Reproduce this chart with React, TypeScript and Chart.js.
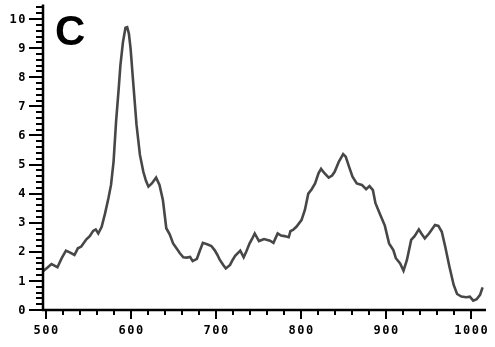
import React, { useEffect, useRef } from "react";
import { Chart, registerables } from "chart.js";

Chart.register(...registerables);

const panelLabel = "C";
const xTickLabels = ["500", "600", "700", "800", "900", "1000"];
const yTickLabels = ["0", "1", "2", "3", "4", "5", "6", "7", "8", "9", "10"];

const xValues = [
  497, 502, 507, 511, 514, 519, 524, 529, 534, 538, 542, 548, 552, 556, 559, 562, 566, 570, 574, 577,
  580, 583, 586, 588, 591, 594, 596, 598, 600, 603, 607, 611, 615, 618, 621, 625, 630, 634, 638, 642,
  646, 650, 654, 658, 662, 666, 670, 673, 678, 681, 685, 690, 695, 699, 702, 705, 709, 712, 717, 720,
  723, 729, 733, 736, 740, 743, 746, 751, 757, 764, 768, 773, 777, 781, 786, 788, 791, 795, 801, 805,
  809, 813, 817, 821, 824, 828, 833, 837, 840, 845, 850, 853, 857, 861, 866, 872, 877, 881, 885, 888,
  893, 899, 904, 909, 912, 917, 921, 925, 930, 934, 939, 942, 946, 951, 958, 962, 966, 970, 975, 980,
  984, 989, 995, 999, 1003, 1007, 1011, 1014,
];

const yValues = [
  1.33, 1.45, 1.58, 1.52, 1.47, 1.78, 2.04, 1.97, 1.89, 2.12, 2.18, 2.43, 2.54, 2.72, 2.77, 2.63, 2.86, 3.32, 3.85, 4.3,
  5.1, 6.5, 7.6, 8.4, 9.2, 9.7, 9.72, 9.5, 8.99, 7.85, 6.36, 5.33, 4.75, 4.45, 4.24, 4.35, 4.55, 4.3, 3.78, 2.81,
  2.6, 2.29, 2.12, 1.95, 1.81, 1.8, 1.82, 1.68, 1.76, 2.0, 2.31, 2.26, 2.2, 2.05, 1.9, 1.72, 1.55, 1.43, 1.55, 1.72,
  1.86, 2.04, 1.81, 2.0, 2.29, 2.45, 2.63, 2.37, 2.44, 2.38, 2.31, 2.63, 2.56, 2.54, 2.5, 2.71, 2.75, 2.86, 3.09, 3.44,
  4.0, 4.15, 4.35, 4.7, 4.85, 4.7, 4.55, 4.62, 4.75, 5.1, 5.36, 5.27, 4.92, 4.58, 4.35, 4.3, 4.15, 4.26, 4.12, 3.67,
  3.32, 2.9, 2.29, 2.06, 1.78, 1.6, 1.35, 1.72, 2.41, 2.54, 2.77, 2.63, 2.46, 2.63, 2.92, 2.89, 2.69, 2.18, 1.49, 0.86,
  0.55, 0.46, 0.44, 0.46, 0.32, 0.37, 0.52, 0.78,
];

const axisPlugin = {
  id: "customAxes",
  afterDraw(chart: any) {
    const ctx = chart.ctx;
    const xs = chart.scales.x;
    const ys = chart.scales.y;
    const area = chart.chartArea;
    ctx.save();
    ctx.strokeStyle = "#000";
    ctx.fillStyle = "#000";
    // axis lines
    ctx.lineWidth = 2.5;
    ctx.beginPath();
    ctx.moveTo(area.left, area.top);
    ctx.lineTo(area.left, area.bottom);
    ctx.lineTo(area.right, area.bottom);
    ctx.stroke();
    ctx.lineWidth = 2;
    // y minor ticks
    for (let i = 0; i <= 52; i++) {
      const v = i * 0.2;
      const py = Math.round(ys.getPixelForValue(v)) + 0.0;
      const major = i % 5 === 0;
      ctx.beginPath();
      ctx.moveTo(area.left - (major ? 14 : 7), py);
      ctx.lineTo(area.left, py);
      ctx.stroke();
    }
    // x ticks
    for (let v = 500; v <= 1010; v += 20) {
      const px = Math.round(xs.getPixelForValue(v));
      const major = v % 100 === 0;
      ctx.beginPath();
      ctx.moveTo(px, area.bottom);
      ctx.lineTo(px, area.bottom + (major ? 9 : 5));
      ctx.stroke();
    }
    ctx.font = "bold 12px 'DejaVu Sans Mono'";
    (ctx as any).letterSpacing = "1.5px";
    ctx.textBaseline = "middle";
    ctx.textAlign = "right";
    yTickLabels.forEach((lab) => {
      const py = ys.getPixelForValue(Number(lab));
      ctx.fillText(lab, area.left - 16, py + 0.5);
    });
    ctx.textAlign = "center";
    xTickLabels.forEach((lab) => {
      const px = xs.getPixelForValue(Number(lab));
      ctx.fillText(lab, px + 1, area.bottom + 21);
    });
    (ctx as any).letterSpacing = "0px";
    ctx.font = "bold 42px 'Liberation Sans'";
    ctx.textAlign = "left";
    ctx.textBaseline = "alphabetic";
    ctx.fillText(panelLabel, 55, 45);
    ctx.restore();
  },
};

export default function App() {
  const ref = useRef<HTMLCanvasElement | null>(null);
  useEffect(() => {
    document.body.style.margin = "0";
    const canvas = ref.current;
    if (!canvas) return;
    const data = xValues.map((x, i) => ({ x, y: yValues[i] }));
    const chart = new Chart(canvas, {
      type: "scatter",
      data: {
        datasets: [
          {
            data,
            showLine: true,
            borderColor: "#474747",
            borderWidth: 2.6,
            pointRadius: 0,
            tension: 0,
            fill: false,
          },
        ],
      },
      options: {
        responsive: false,
        animation: false,
        events: [],
        layout: { padding: { left: 43, right: 9, top: 4.5, bottom: 37 } },
        plugins: { legend: { display: false }, tooltip: { enabled: false } },
        scales: {
          x: { type: "linear", min: 497, max: 1018, display: false },
          y: { type: "linear", min: 0, max: 10.5, display: false },
        },
      },
      plugins: [axisPlugin],
    });
    return () => chart.destroy();
  }, []);
  return (
    <div style={{ width: 495, height: 347, background: "#fff" }}>
      <canvas ref={ref} width={495} height={347} style={{ display: "block" }} />
    </div>
  );
}
